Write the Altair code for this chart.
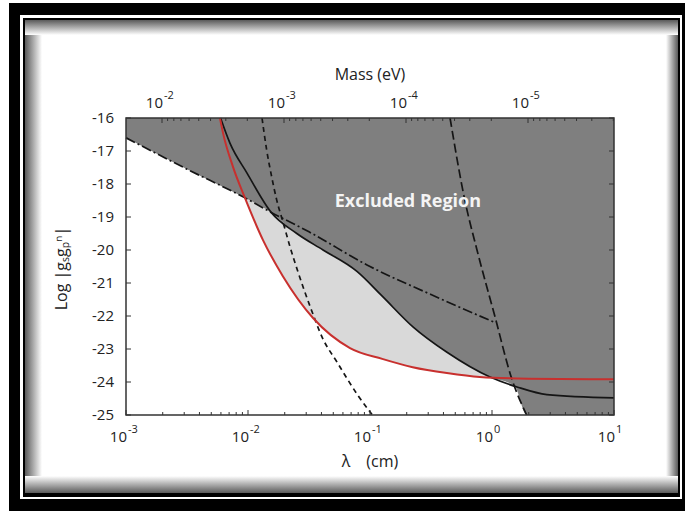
import altair as alt
import pandas as pd

HC = 1.9733e-5  # eV*cm: Compton wavelength lambda = HC / mass

# ---- curves: x = log10(lambda / cm), y = Log|gs gp^n| ----
red_x = [-2.23, -2.205, -2.123, -2.025, -1.877, -1.713, -1.467, -1.164, -0.9, -0.65, -0.37, -0.1, 0.3, 1.0]
red_y = [-16.0, -16.45, -17.48, -18.42, -19.7, -20.8, -22.06, -22.97, -23.3, -23.55, -23.73, -23.85, -23.9, -23.92]

black_x = [-2.225, -2.148, -2.008, -1.81, -1.6, -1.385, -1.107, -0.9, -0.648, -0.369, -0.016, 0.205, 0.45, 1.0]
black_y = [-16.0, -16.76, -17.67, -18.86, -19.5, -20.0, -20.65, -21.4, -22.33, -23.1, -23.85, -24.15, -24.38, -24.48]

dashdot_x = [-3.0, -2.5, -2.025, -1.81, -1.5, -1.0, -0.5, 0.025]
dashdot_y = [-16.6, -17.55, -18.42, -18.86, -19.45, -20.5, -21.35, -22.2]

dash1_x = [-1.885, -1.847, -1.806, -1.765, -1.71, -1.656, -1.587, -1.49, -1.385, -1.27, -1.1, -0.98]
dash1_y = [-16.0, -16.97, -17.78, -18.48, -19.19, -19.9, -20.7, -21.72, -22.7, -23.4, -24.4, -25.0]

dash2_x = [-0.344, -0.221, -0.123, 0.025, 0.161, 0.284]
dash2_y = [-16.0, -18.52, -20.0, -22.03, -23.89, -25.0]

# crossings that bound the excluded region
cross_dd_black = (-1.81, -18.86)
cross_black_d2 = (0.185, -24.12)

# ---- axis ticks ----
lam_major = [1e-3, 1e-2, 1e-1, 1e0, 1e1]
lam_exp = ["-3", "-2", "-1", "0", "1"]
lam_minor = [k * 10.0 ** e for e in range(-3, 1) for k in range(2, 10)]
mass_major = [1e-2, 1e-3, 1e-4, 1e-5]
mass_exp = ["-2", "-3", "-4", "-5"]
mass_minor = [k * 10.0 ** e for e in range(-6, -2) for k in range(2, 10)
              if HC / 10.0 ** 1 <= k * 10.0 ** e <= HC / 1e-3]
y_ticks = list(range(-16, -26, -1))

W, H = 488, 297
PAD_L, PAD_T, PAD_R, PAD_B = 126, 118, 71, 96
FONT = "Open Sans"
AX = "#333333"


def curve(xs, ys):
    return pd.DataFrame({"lam": [10.0 ** v for v in xs], "y": ys})


xscale = alt.Scale(type="log", domain=[1e-3, 10])
yscale = alt.Scale(domain=[-25, -16])
X = alt.X("lam:Q", scale=xscale, axis=None)
Y = alt.Y("y:Q", scale=yscale, axis=None)

one = pd.DataFrame({"k": [0]})


def box(x0, y0, x1, y1, **kw):
    """Rectangle in page pixels (origin at the page's top-left corner)."""
    return alt.Chart(one).mark_rect(**kw).encode(
        x=alt.value(x0 - PAD_L), x2=alt.value(x1 - PAD_L),
        y=alt.value(y0 - PAD_T), y2=alt.value(y1 - PAD_T))


def grad(c0, c1, horizontal):
    return alt.LinearGradient(
        gradient="linear",
        stops=[alt.GradientStop(color=c0, offset=0), alt.GradientStop(color=c1, offset=1)],
        x1=0, y1=0, x2=1 if horizontal else 0, y2=0 if horizontal else 1)


# picture frame with an inner shadow
frame = [
    box(9, 3, 690, 520, color="black"),
    box(20, 15, 682, 499, color="white"),
    box(23, 18, 680, 497, color="black"),
    box(25, 20, 678, 493, color="white"),
    box(25, 20, 42, 493, fill=grad("#5a5a5a", "#ffffff", True)),
    box(666, 20, 678, 493, fill=grad("#ffffff", "#5a5a5a", True)),
    box(25, 20, 678, 35, fill=grad("#5a5a5a", "#ffffff", False)),
    box(25, 476, 678, 493, fill=grad("#ffffff", "#5a5a5a", False)),
]

# excluded-region boundary: dash-dot, then solid black, then the long-dash limit
bx, by = [], []
for xv, yv in zip(dashdot_x, dashdot_y):
    if xv < cross_dd_black[0]:
        bx.append(xv); by.append(yv)
bx.append(cross_dd_black[0]); by.append(cross_dd_black[1])
for xv, yv in zip(black_x, black_y):
    if cross_dd_black[0] < xv < cross_black_d2[0]:
        bx.append(xv); by.append(yv)
bx.append(cross_black_d2[0]); by.append(cross_black_d2[1])
for xv, yv in zip(dash2_x, dash2_y):
    if xv > cross_black_d2[0]:
        bx.append(xv); by.append(yv)
bx.append(1.0); by.append(-25.0)

light = alt.Chart(curve(red_x, red_y)).mark_area(
    color="#d9d9d9", interpolate="monotone").encode(x=X, y=Y, y2=alt.datum(-16))
dark = alt.Chart(curve(bx, by)).mark_area(
    color="#7f7f7f", interpolate="monotone").encode(x=X, y=Y, y2=alt.datum(-16))


def line(xs, ys, color, width, dash=None):
    kw = dict(color=color, strokeWidth=width, interpolate="monotone")
    if dash:
        kw["strokeDash"] = dash
    return alt.Chart(curve(xs, ys)).mark_line(**kw).encode(x=X, y=Y)


lines = [
    line(dash1_x, dash1_y, "#151515", 1.7, [5, 4]),
    line(dash2_x, dash2_y, "#151515", 1.7, [9, 4]),
    line(dashdot_x, dashdot_y, "#151515", 1.7, [10, 3, 2, 3]),
    line(black_x, black_y, "#151515", 1.7),
    line(red_x, red_y, "#c8302e", 2.0),
]

border = alt.Chart(one).mark_rect(filled=False, stroke=AX, strokeWidth=1.5).encode(
    x=alt.value(0), x2=alt.value(W), y=alt.value(0), y2=alt.value(H))

# inward ticks
lam_major_df = pd.DataFrame({"lam": lam_major, "e": lam_exp})
lam_minor_df = pd.DataFrame({"lam": lam_minor})
mass_major_df = pd.DataFrame({"lam": [HC / m for m in mass_major], "e": mass_exp})
mass_minor_df = pd.DataFrame({"lam": [HC / m for m in mass_minor]})
y_df = pd.DataFrame({"y": y_ticks, "t": [str(v) for v in y_ticks]})

ticks = [
    alt.Chart(lam_major_df).mark_rule(color=AX, strokeWidth=1).encode(x=X, y=alt.value(H), y2=alt.value(H - 5)),
    alt.Chart(lam_minor_df).mark_rule(color=AX, strokeWidth=1).encode(x=X, y=alt.value(H), y2=alt.value(H - 3)),
    alt.Chart(mass_major_df).mark_rule(color=AX, strokeWidth=1).encode(x=X, y=alt.value(0), y2=alt.value(5)),
    alt.Chart(mass_minor_df).mark_rule(color=AX, strokeWidth=1).encode(x=X, y=alt.value(0), y2=alt.value(3)),
    alt.Chart(y_df).mark_rule(color=AX, strokeWidth=1).encode(y=Y, x=alt.value(0), x2=alt.value(5)),
    alt.Chart(y_df).mark_rule(color=AX, strokeWidth=1).encode(y=Y, x=alt.value(W), x2=alt.value(W - 5)),
]

TXT = "#222222"
labels = [
    alt.Chart(lam_major_df.assign(b="10")).mark_text(
        font=FONT, fontSize=15, align="right", baseline="alphabetic", color=TXT, dx=1
    ).encode(x=X, y=alt.value(H + 27), text="b:N"),
    alt.Chart(lam_major_df).mark_text(
        font=FONT, fontSize=11, align="left", baseline="alphabetic", color=TXT, dx=2
    ).encode(x=X, y=alt.value(H + 18), text="e:N"),
    alt.Chart(mass_major_df.assign(b="10")).mark_text(
        font=FONT, fontSize=15, align="right", baseline="alphabetic", color=TXT, dx=1
    ).encode(x=X, y=alt.value(-10), text="b:N"),
    alt.Chart(mass_major_df).mark_text(
        font=FONT, fontSize=11, align="left", baseline="alphabetic", color=TXT, dx=2
    ).encode(x=X, y=alt.value(-19), text="e:N"),
    alt.Chart(y_df).mark_text(
        font=FONT, fontSize=15, align="right", baseline="middle", color=TXT
    ).encode(y=Y, x=alt.value(-12), text="t:N"),
]

titles = [
    alt.Chart(one).mark_text(font=FONT, fontSize=16, color=TXT, baseline="middle", text="Mass (eV)").encode(
        x=alt.value(W / 2), y=alt.value(-43)),
    alt.Chart(one).mark_text(font=FONT, fontSize=16, color=TXT, baseline="middle", text="λ\u2003(cm)").encode(
        x=alt.value(W / 2), y=alt.value(H + 47)),
    alt.Chart(one).mark_text(font=FONT, fontSize=16, color=TXT, baseline="middle", angle=270,
                             text="Log |gₛgₚⁿ|").encode(x=alt.value(-64), y=alt.value(H / 2 + 2)),
    alt.Chart(pd.DataFrame({"lam": [0.2046], "y": [-18.55], "t": ["Excluded Region"]})).mark_text(
        font=FONT, fontSize=18, fontWeight="bold", color="#f4f4f4", baseline="middle"
    ).encode(x=X, y=Y, text="t:N"),
]

chart = alt.layer(*frame, light, dark, *lines, border, *ticks, *labels, *titles).properties(
    width=W, height=H,
    padding={"left": PAD_L, "top": PAD_T, "right": PAD_R, "bottom": PAD_B},
    autosize=alt.AutoSizeParams(type="none"),
    background="white",
).configure_view(strokeWidth=0)

chart.save("out.html", embed_options={"renderer": "svg", "actions": False})
